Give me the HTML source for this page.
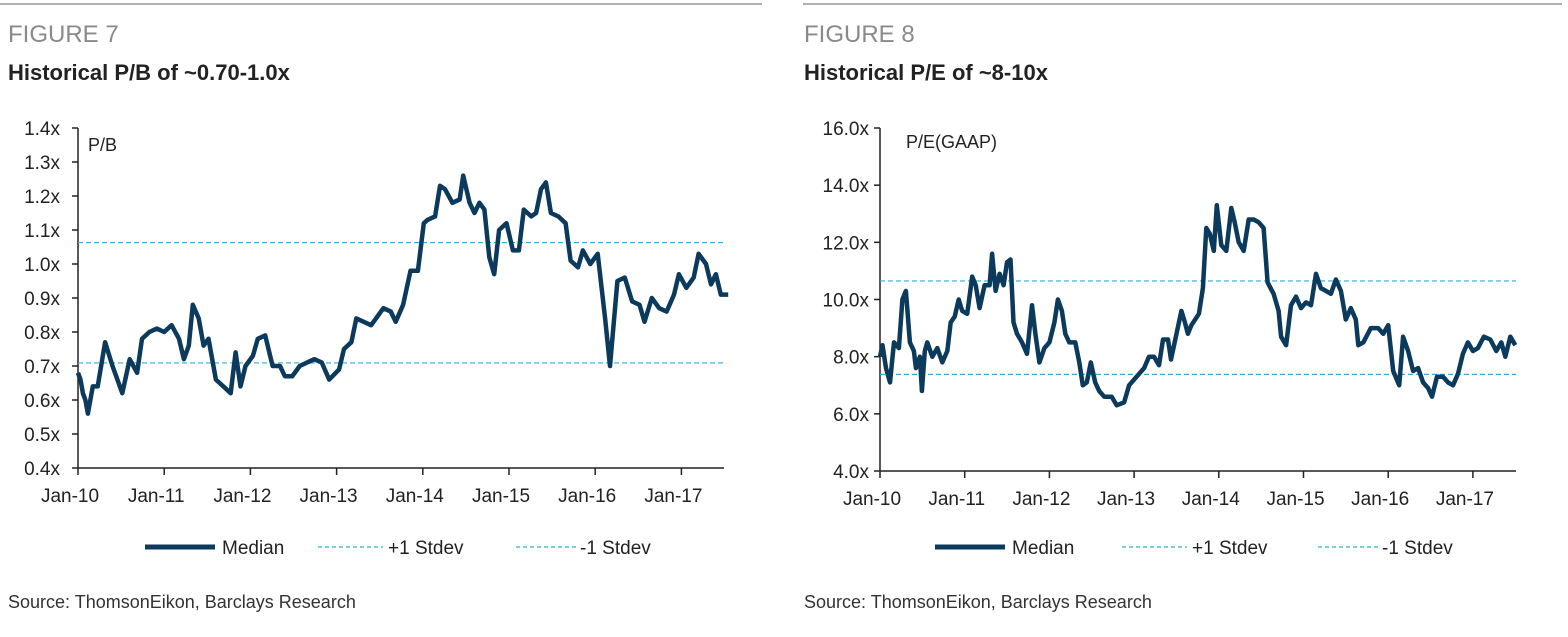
<!DOCTYPE html>
<html><head><meta charset="utf-8"><style>
html,body{margin:0;padding:0;background:#fff;}
svg{display:block;font-family:"Liberation Sans",sans-serif;}
</style></head><body>
<svg id="c" width="1568" height="637" viewBox="0 0 1568 637">
<g>
<line x1="0" y1="4" x2="762" y2="4" stroke="#b0b0b0" stroke-width="2"/>
<text x="8" y="42" font-size="24" fill="#8a8a8a">FIGURE 7</text>
<text x="8" y="80" font-size="22" font-weight="bold" fill="#222">Historical P/B of ~0.70-1.0x</text>
<text x="88" y="151" font-size="18" fill="#222">P/B</text>
<text x="8" y="608" font-size="18" fill="#333">Source: ThomsonEikon, Barclays Research</text>
<g id="pb"></g>
</g>
<g>
<line x1="803" y1="4" x2="1562" y2="4" stroke="#b0b0b0" stroke-width="2"/>
<text x="804" y="42" font-size="24" fill="#8a8a8a">FIGURE 8</text>
<text x="804" y="80" font-size="22" font-weight="bold" fill="#222">Historical P/E of ~8-10x</text>
<text x="906" y="148" font-size="18" fill="#222">P/E(GAAP)</text>
<text x="804" y="608" font-size="18" fill="#333">Source: ThomsonEikon, Barclays Research</text>
<g id="pe"></g>
</g>
</svg>
<script>
const xTickLabels=["Jan-10","Jan-11","Jan-12","Jan-13","Jan-14","Jan-15","Jan-16","Jan-17"];
const pbTicks=[0.4,0.5,0.6,0.7,0.8,0.9,1.0,1.1,1.2,1.3,1.4];
const pbTickLabels=["0.4x","0.5x","0.6x","0.7x","0.8x","0.9x","1.0x","1.1x","1.2x","1.3x","1.4x"];
const pbPlusStdev=1.063, pbMinusStdev=0.709;
const pbX=[160,165,170,175,180,190,200,215,230,250,265,280,290,305,320,335,350,365,375,385,393,405,415,425,440,455,470,480,490,500,515,525,540,555,570,580,595,610,625,640,655,670,690,700,715,725,740,755,765,780,795,805,820,835,850,862,870,885,895,905,920,935,942,955,965,975,985,995,1005,1015,1030,1043,1055,1065,1080,1090,1100,1110,1120,1135,1150,1160,1175,1185,1200,1215,1230,1240,1255,1270,1285,1300,1310,1325,1340,1355,1370,1380,1395,1410,1420,1435,1445,1455,1465,1480];
const pbValues=[0.68,0.66,0.62,0.60,0.56,0.64,0.64,0.77,0.70,0.62,0.72,0.68,0.78,0.80,0.81,0.80,0.82,0.78,0.72,0.76,0.88,0.84,0.76,0.78,0.66,0.64,0.62,0.74,0.64,0.70,0.73,0.78,0.79,0.70,0.70,0.67,0.67,0.70,0.71,0.72,0.71,0.66,0.69,0.75,0.77,0.84,0.83,0.82,0.84,0.87,0.86,0.83,0.88,0.98,0.98,1.12,1.13,1.14,1.23,1.22,1.18,1.19,1.26,1.18,1.15,1.18,1.16,1.02,0.97,1.10,1.12,1.04,1.04,1.16,1.14,1.15,1.22,1.24,1.15,1.14,1.12,1.01,0.99,1.04,1.00,1.03,0.84,0.70,0.95,0.96,0.89,0.88,0.83,0.90,0.87,0.86,0.91,0.97,0.93,0.96,1.03,1.00,0.94,0.97,0.91,0.91];
const peTicks=[4,6,8,10,12,14,16];
const peTickLabels=["4.0x","6.0x","8.0x","10.0x","12.0x","14.0x","16.0x"];
const pePlusStdev=10.65, peMinusStdev=7.38;
const peX=[200,205,212,220,228,238,245,252,260,268,272,280,284,290,295,305,315,325,335,342,350,358,365,375,385,392,400,410,420,425,432,440,448,455,462,468,475,485,495,505,512,520,530,540,550,557,565,572,580,592,600,607,615,623,632,640,650,665,675,690,700,715,730,740,750,760,768,778,784,795,805,812,818,825,840,848,855,862,870,876,885,895,905,912,920,930,940,950,960,970,978,990,1000,1005,1015,1025,1035,1045,1055,1065,1075,1085,1095,1105,1115,1125,1135,1145,1155,1160,1170,1185,1200,1210,1220,1230,1242,1250,1260,1270,1280,1290,1300,1308,1318,1330,1340,1350,1360,1370,1380,1390,1400,1412,1425,1437,1447,1455,1465,1475];
const peValues=[8.0,8.4,7.6,7.1,8.5,8.3,10.0,10.3,8.5,8.2,7.6,8.0,6.8,8.2,8.5,8.0,8.3,7.8,8.2,9.2,9.4,10.0,9.6,9.5,10.8,10.5,9.7,10.5,10.5,11.6,10.3,10.9,10.5,11.3,11.4,9.2,8.8,8.5,8.1,9.8,8.8,7.8,8.3,8.5,9.2,10.0,9.6,8.8,8.5,8.5,7.8,7.0,7.1,7.8,7.1,6.8,6.6,6.6,6.3,6.4,7.0,7.3,7.6,8.0,8.0,7.7,8.6,8.6,7.9,8.8,9.6,9.2,8.8,9.1,9.5,10.4,12.5,12.3,11.7,13.3,11.9,11.7,13.2,12.7,12.0,11.7,12.8,12.8,12.7,12.5,10.6,10.2,9.6,8.7,8.4,9.8,10.1,9.7,9.9,9.8,10.9,10.4,10.3,10.2,10.7,10.3,9.3,9.7,9.3,8.4,8.5,9.0,9.0,8.8,9.1,7.5,7.0,8.7,8.2,7.5,7.6,7.1,6.9,6.6,7.3,7.3,7.1,7.0,7.4,8.1,8.5,8.2,8.3,8.7,8.6,8.2,8.5,8.0,8.7,8.4];
const pbYears=pbX.map(x=>2010+(x-160)/175);
const peYears=peX.map(x=>2010+(x-200)/170);

const NS="http://www.w3.org/2000/svg";
function mk(parent,tag,attrs){const e=document.createElementNS(NS,tag);for(const k in attrs)e.setAttribute(k,attrs[k]);parent.appendChild(e);return e;}

function drawChart(g,cfg){
  const xs=t=>cfg.x0+(t-2010)*cfg.pxYear;
  const ys=v=>cfg.yTop+(cfg.vMax-v)/(cfg.vMax-cfg.vMin)*(cfg.yBot-cfg.yTop);
  let a=mk(g,'line',{x1:cfg.x0,y1:cfg.yTop,x2:cfg.x0,y2:cfg.yBot,stroke:'#222','stroke-width':1.5});
  
  a=mk(g,'line',{x1:cfg.x0,y1:cfg.yBot,x2:cfg.xEnd,y2:cfg.yBot,stroke:'#222','stroke-width':1.5});
  
  cfg.ticks.forEach((v,i)=>{
    const y=ys(v);
    const t=mk(g,'line',{x1:cfg.x0-6,y1:y,x2:cfg.x0,y2:y,stroke:'#222','stroke-width':1.5});
    
    const l=mk(g,'text',{x:cfg.x0-cfg.labOff,y:y+7,'font-size':19,fill:'#222','text-anchor':'end'});
    l.textContent=cfg.tickLabels[i];
    
  });
  xTickLabels.forEach((s,i)=>{
    const x=xs(2010+i);
    const t=mk(g,'line',{x1:x,y1:cfg.yBot,x2:x,y2:cfg.yBot+7,stroke:'#222','stroke-width':1.5});
    
    const l=mk(g,'text',{x:x-8,y:cfg.yBot+34,'font-size':19,fill:'#222','text-anchor':'middle'});
    l.textContent=s;
    
  });
  [[cfg.plus,'plus-1-stdev-line'],[cfg.minus,'minus-1-stdev-line']].forEach(([v,n])=>{
    const l=mk(g,'line',{x1:cfg.x0,y1:ys(v),x2:cfg.xEnd,y2:ys(v),stroke:'#2aafe0','stroke-width':1.2,'stroke-dasharray':'5,3'});
    
  });
  const d=cfg.years.map((t,i)=>(i?'L':'M')+xs(t).toFixed(1)+','+ys(cfg.values[i]).toFixed(1)).join(' ');
  const p=mk(g,'path',{d:d,fill:'none',stroke:'#0b3a5c','stroke-width':4.5,'stroke-linejoin':'round'});
  
  const L=cfg.legend, ly=547;
  let e=mk(g,'line',{x1:L[0],y1:ly,x2:L[0]+70,y2:ly,stroke:'#0b3a5c','stroke-width':5});
  
  e=mk(g,'text',{x:L[0]+77,y:ly+7,'font-size':19,fill:'#222'});e.textContent='Median';
  
  e=mk(g,'line',{x1:L[1],y1:ly,x2:L[1]+65,y2:ly,stroke:'#2aafe0','stroke-width':1.2,'stroke-dasharray':'4,3'});
  
  e=mk(g,'text',{x:L[1]+70,y:ly+7,'font-size':19,fill:'#222'});e.textContent='+1 Stdev';
  
  e=mk(g,'line',{x1:L[2],y1:ly,x2:L[2]+60,y2:ly,stroke:'#2aafe0','stroke-width':1.2,'stroke-dasharray':'4,3'});
  
  e=mk(g,'text',{x:L[2]+64,y:ly+7,'font-size':19,fill:'#222'});e.textContent='-1 Stdev';
  
}
drawChart(document.getElementById('pb'),{x0:78,xEnd:724,pxYear:86.2,yTop:128,yBot:468,vMin:0.4,vMax:1.4,labOff:18,ticks:pbTicks,tickLabels:pbTickLabels,plus:pbPlusStdev,minus:pbMinusStdev,years:pbYears,values:pbValues,legend:[145,318,516]});
drawChart(document.getElementById('pe'),{x0:880,xEnd:1516,pxYear:84.7,yTop:128,yBot:471,vMin:4,vMax:16,labOff:11,ticks:peTicks,tickLabels:peTickLabels,plus:pePlusStdev,minus:peMinusStdev,years:peYears,values:peValues,legend:[935,1122,1318]});
</script>
</body></html>
